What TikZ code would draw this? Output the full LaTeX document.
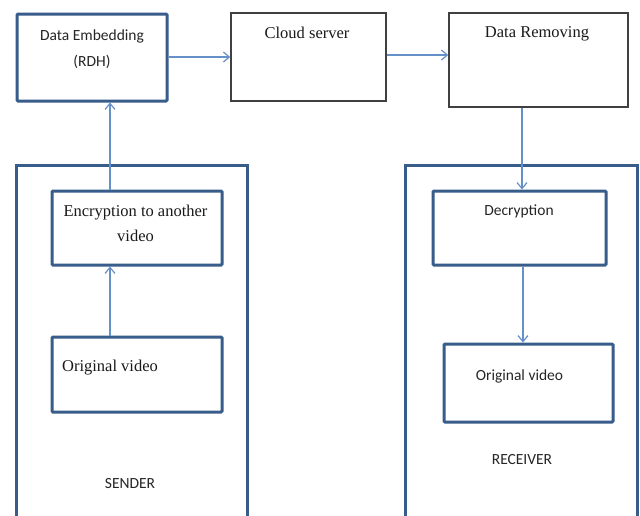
\documentclass[tikz,border=0pt]{standalone}
\usepackage{fontspec}
\setmainfont{Liberation Serif}
\newfontfamily\calfont{Carlito}
\usetikzlibrary{arrows.meta}
\definecolor{boxblue}{HTML}{385D8A}
\definecolor{arrblue}{HTML}{6690C8}
\definecolor{boxgray}{HTML}{404040}
\begin{document}
\begin{tikzpicture}[x=1pt,y=-1pt,
  bluebox/.style={draw=boxblue, line width=3pt, rounded corners=1pt, inner sep=0pt},
  graybox/.style={draw=boxgray, line width=1.4pt, inner sep=0pt},
  outer/.style={draw=boxblue, line width=3pt},
  arr/.style={draw=arrblue, line width=1.2pt, -{Straight Barb[length=6pt,width=10pt,line width=1.2pt]}},
  sanst/.style={font=\calfont\fontsize{15.5}{18}\selectfont, anchor=base, inner sep=0pt, text=black!85},
  serift/.style={font=\fontsize{16.5}{19}\selectfont, anchor=base, inner sep=0pt, text=black!90}]
\useasboundingbox (0,0) rectangle (640,515);
\fill[white] (0,0) rectangle (640,515);

% outer sender / receiver frames (open at bottom)
\draw[outer] (16,516) -- (16,165) -- (247,165) -- (247,516);
\draw[outer] (405,516) -- (405,165) -- (637,165) -- (637,516);

% boxes
\node[bluebox, minimum width=150pt, minimum height=87pt] (emb) at (92,57.5) {};
\node[graybox, minimum width=155pt, minimum height=88pt] (cloud) at (308.5,57) {};
\node[graybox, minimum width=179pt, minimum height=94pt] (rem) at (538.5,60) {};
\node[bluebox, minimum width=170pt, minimum height=74pt] (enc) at (137,228) {};
\node[bluebox, minimum width=170pt, minimum height=75pt] (orig) at (137,374.5) {};
\node[bluebox, minimum width=173pt, minimum height=74pt] (dec) at (519.5,228) {};
\node[bluebox, minimum width=169pt, minimum height=78pt] (origr) at (528.5,383) {};

% texts
\node[sanst] (t1) at (92,40) {Data Embedding};
\node[sanst] (t2) at (92,66) {(RDH)};
\node[serift] (t3) at (307,38) {Cloud server};
\node[serift] (t4) at (537,37.5) {Data Removing};
\node[serift] (t5) at (135.5,216) {Encryption to another};
\node[serift] (t6) at (135.5,241.5) {video};
\node[sanst] (t7) at (519,215) {Decryption};
\node[serift] (t8) at (110,371.5) {Original video};
\node[sanst] (t9) at (519.5,380) {Original video};
\node[sanst] (t10) at (130,488) {SENDER};
\node[sanst] (t11) at (522,464) {RECEIVER};

% helper coordinates
\coordinate (ya) at (0,57);
\coordinate (yb) at (0,55);
\coordinate (xa) at (110,0);
\coordinate (xb) at (522,0);
\coordinate (xc) at (523,0);

% connectors
\draw[arr] (emb.east |- ya) -- (cloud.west |- ya);
\draw[arr] (cloud.east |- yb) -- (rem.west |- yb);
\draw[arr] (rem.south -| xb) -- (dec.north -| xb);
\draw[arr] (enc.north -| xa) -- (emb.south -| xa);
\draw[arr] (orig.north -| xa) -- (enc.south -| xa);
\draw[arr] (dec.south -| xc) -- (origr.north -| xc);
\end{tikzpicture}
\end{document}
